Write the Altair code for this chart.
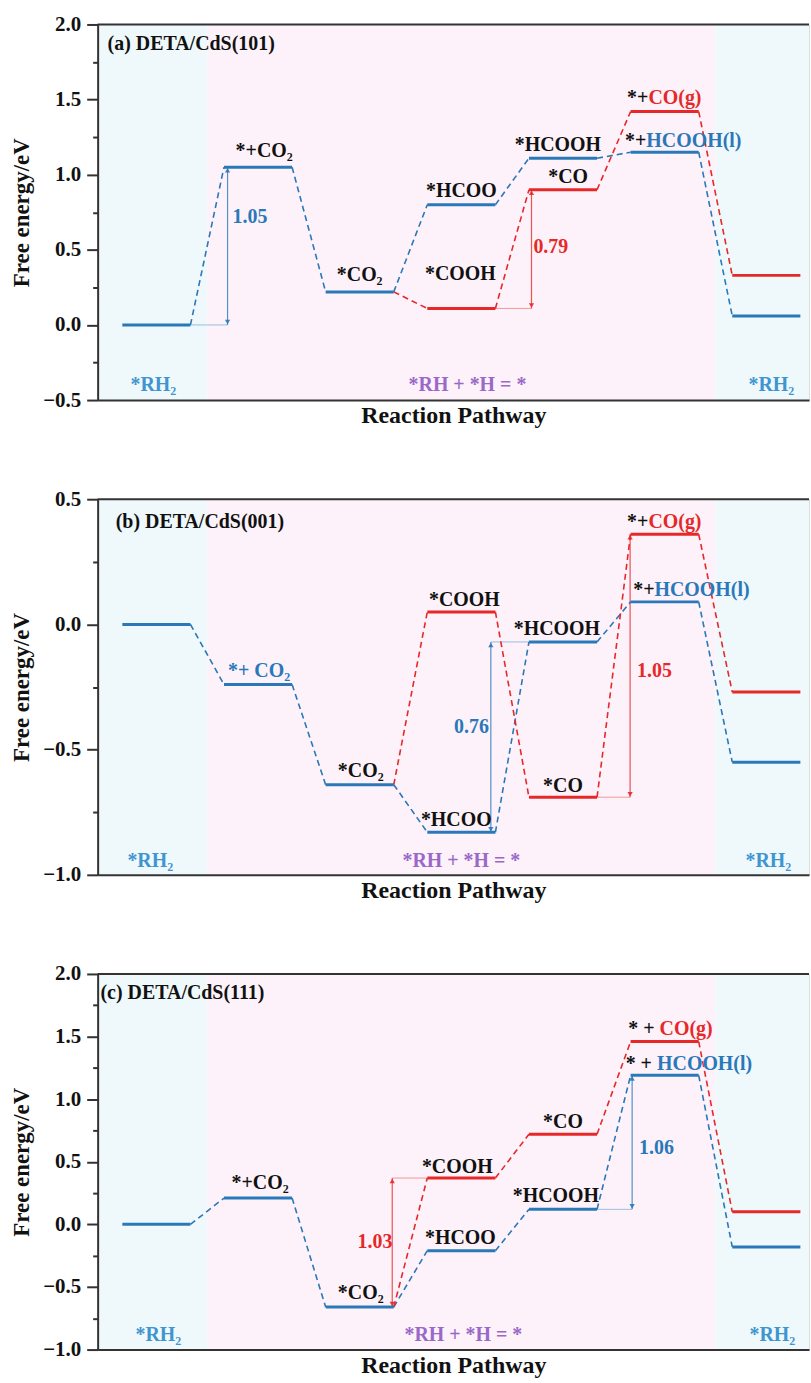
import altair as alt
import pandas as pd

FONT = "Liberation Serif"
BLUE = "#2a78b8"
RED = "#e62828"
BLACK = "#111111"
PURPLE = "#9a68c8"
RH_BLUE = "#3f95d0"
AXIS = "#333333"
CYAN_BG = "#eff9fc"
PINK_BG = "#fdf2fa"

HALF = 0.335
X_DOMAIN = [-0.578, 6.42]
BAND_EDGES = [-0.578, 0.5, 5.5, 6.42]
BAND_COLORS = [CYAN_BG, PINK_BG, CYAN_BG]

# ---------------- Panel (a) DETA/CdS(101) ----------------
A_BLUE = [0.00, 1.05, 0.22, 0.80, 1.11, 1.15, 0.06]   # positions 0..6
A_RED = [0.11, 0.90, 1.42, 0.33]                      # positions 3..6
A_YDOMAIN = [-0.5, 2.0]
A_LABELS = [
    ("(a) DETA/CdS(101)", -0.48, 1.87, BLACK, "left"),
    ("*+CO₂", 1.06, 1.16, BLACK, "center"),
    ("*CO₂", 2.00, 0.33, BLACK, "center"),
    ("*HCOO", 3.00, 0.89, BLACK, "center"),
    ("*COOH", 2.99, 0.34, BLACK, "center"),
    ("*HCOOH", 3.95, 1.20, BLACK, "center"),
    ("*CO", 4.05, 0.985, BLACK, "center"),
    ("*+", 4.84, 1.51, BLACK, "right"),
    ("CO(g)", 4.84, 1.51, RED, "left"),
    ("*+", 4.82, 1.225, BLACK, "right"),
    ("HCOOH(l)", 4.82, 1.225, BLUE, "left"),
    ("1.05", 0.92, 0.716, BLUE, "center"),
    ("0.79", 3.88, 0.52, RED, "center"),
    ("*RH₂", -0.03, -0.40, RH_BLUE, "center"),
    ("*RH₂", 6.05, -0.40, RH_BLUE, "center"),
    ("*RH + *H = *", 3.06, -0.40, PURPLE, "center"),
]
A_ARROWS = [(0.70, 0.00, 1.05, BLUE), (3.69, 0.11, 0.90, RED)]
A_GUIDES = [(0.335, 0.70, 0.00, BLUE), (3.335, 3.69, 0.11, RED)]

# ---------------- Panel (b) DETA/CdS(001) ----------------
B_BLUE = [0.00, -0.24, -0.64, -0.83, -0.07, 0.09, -0.55]
B_RED = [0.05, -0.69, 0.36, -0.27]
B_YDOMAIN = [-1.0, 0.5]
B_LABELS = [
    ("(b) DETA/CdS(001)", -0.40, 0.41, BLACK, "left"),
    ("*+ CO₂", 1.01, -0.185, BLUE, "center"),
    ("*CO₂", 2.01, -0.586, BLACK, "center"),
    ("*COOH", 3.03, 0.097, BLACK, "center"),
    ("*HCOOH", 3.94, -0.017, BLACK, "center"),
    ("*HCOO", 2.95, -0.78, BLACK, "center"),
    ("*CO", 4.00, -0.644, BLACK, "center"),
    ("*+", 4.84, 0.41, BLACK, "right"),
    ("CO(g)", 4.84, 0.41, RED, "left"),
    ("*+", 4.90, 0.139, BLACK, "right"),
    ("HCOOH(l)", 4.90, 0.139, BLUE, "left"),
    ("0.76", 3.10, -0.41, BLUE, "center"),
    ("1.05", 4.90, -0.185, RED, "center"),
    ("*RH₂", -0.06, -0.946, RH_BLUE, "center"),
    ("*RH₂", 6.02, -0.946, RH_BLUE, "center"),
    ("*RH + *H = *", 3.00, -0.946, PURPLE, "center"),
]
B_ARROWS = [(3.29, -0.83, -0.07, BLUE), (4.66, -0.69, 0.36, RED)]
B_GUIDES = [(3.29, 3.665, -0.07, BLUE), (4.335, 4.66, -0.69, RED)]

# ---------------- Panel (c) DETA/CdS(111) ----------------
C_BLUE = [0.00, 0.21, -0.66, -0.21, 0.12, 1.19, -0.18]
C_RED = [0.37, 0.72, 1.46, 0.10]
C_YDOMAIN = [-1.0, 2.0]
C_LABELS = [
    ("(c) DETA/CdS(111)", -0.55, 1.85, BLACK, "left"),
    ("*+CO₂", 1.02, 0.33, BLACK, "center"),
    ("*CO₂", 2.01, -0.55, BLACK, "center"),
    ("*HCOO", 2.99, -0.106, BLACK, "center"),
    ("*COOH", 2.96, 0.46, BLACK, "center"),
    ("*HCOOH", 3.93, 0.224, BLACK, "center"),
    ("*CO", 4.00, 0.82, BLACK, "center"),
    ("* +", 4.90, 1.557, BLACK, "right"),
    ("CO(g)", 4.95, 1.557, RED, "left"),
    ("* +", 4.875, 1.28, BLACK, "right"),
    ("HCOOH(l)", 4.925, 1.28, BLUE, "left"),
    ("1.03", 2.15, -0.145, RED, "center"),
    ("1.06", 4.92, 0.61, BLUE, "center"),
    ("*RH₂", 0.02, -0.88, RH_BLUE, "center"),
    ("*RH₂", 6.06, -0.88, RH_BLUE, "center"),
    ("*RH + *H = *", 3.02, -0.88, PURPLE, "center"),
]
C_ARROWS = [(2.32, -0.66, 0.37, RED), (4.68, 0.12, 1.19, BLUE)]
C_GUIDES = [(2.32, 2.665, 0.37, RED), (4.335, 4.68, 0.12, BLUE)]


def make_panel(blue, red, labels, arrows, guides, ydom):
    ymin, ymax = ydom
    xs = alt.Scale(domain=X_DOMAIN, nice=False, zero=False)
    ys = alt.Scale(domain=ydom, nice=False, zero=False)
    n = int(round((ymax - ymin) / 0.25))
    tick_vals = [round(ymin + 0.25 * k, 2) for k in range(n + 1)]

    xax = alt.Axis(title="Reaction Pathway", labels=False, ticks=False, grid=False,
                   domainColor=AXIS, domainWidth=2, titleFont=FONT, titleFontSize=24,
                   titleFontWeight="bold", titleColor=BLACK, titlePadding=4, zindex=1)
    yax = alt.Axis(title="Free energy/eV", values=tick_vals, format=".1f",
                   labelExpr="datum.value % 0.5 ? '' : datum.label",
                   tickSize={"condition": {"test": "datum.value % 0.5", "value": 5}, "value": 11},
                   tickColor=AXIS, tickWidth=2, domainColor=AXIS, domainWidth=2, grid=False,
                   labelFont=FONT, labelFontSize=21, labelFontWeight="bold", labelColor=BLACK,
                   labelPadding=6, titleFont=FONT, titleFontSize=23, titleFontWeight="bold",
                   titleColor=BLACK, titlePadding=9, zindex=1)

    def X(f):
        return alt.X(f, scale=xs, axis=xax)

    def Y(f):
        return alt.Y(f, scale=ys, axis=yax)

    bands = pd.DataFrame({
        "x": BAND_EDGES[:-1], "x2": BAND_EDGES[1:], "c": BAND_COLORS,
        "y": [ymin] * 3, "y2": [ymax] * 3,
    })
    band_layer = alt.Chart(bands).mark_rect(strokeWidth=0).encode(
        x=X("x:Q"), x2="x2:Q", y=Y("y:Q"), y2="y2:Q",
        color=alt.Color("c:N", scale=None),
    )

    # level bars
    rows = []
    for i, v in enumerate(blue):
        rows.append({"x": i - HALF, "x2": i + HALF, "y": v, "c": BLUE})
    for k, v in enumerate(red):
        i = k + 3
        rows.append({"x": i - HALF, "x2": i + HALF, "y": v, "c": RED})
    levels = pd.DataFrame(rows)
    level_layer = alt.Chart(levels).mark_rule(strokeWidth=3).encode(
        x=X("x:Q"), x2="x2:Q", y=Y("y:Q"),
        color=alt.Color("c:N", scale=None),
    )

    # dashed connectors
    crow = []
    for i in range(len(blue) - 1):
        crow.append({"x": i + HALF, "y": blue[i], "x2": i + 1 - HALF, "y2": blue[i + 1], "c": BLUE})
    red_path = [blue[2]] + list(red)
    for k in range(len(red_path) - 1):
        i = k + 2
        crow.append({"x": i + HALF, "y": red_path[k], "x2": i + 1 - HALF, "y2": red_path[k + 1], "c": RED})
    conn = pd.DataFrame(crow)
    conn_layer = alt.Chart(conn).mark_rule(strokeWidth=1.6, strokeDash=[6, 4]).encode(
        x=X("x:Q"), x2="x2:Q", y=Y("y:Q"), y2="y2:Q",
        color=alt.Color("c:N", scale=None),
    )

    # guide lines
    gdf = pd.DataFrame([{"x": a, "x2": b, "y": y, "c": c} for a, b, y, c in guides])
    guide_layer = alt.Chart(gdf).mark_rule(strokeWidth=1, opacity=0.45).encode(
        x=X("x:Q"), x2="x2:Q", y=Y("y:Q"),
        color=alt.Color("c:N", scale=None),
    )

    # double arrows
    adf = pd.DataFrame([{"x": x, "y": lo, "y2": hi, "c": c} for x, lo, hi, c in arrows])
    arrow_line = alt.Chart(adf).mark_rule(strokeWidth=1.2, opacity=0.8).encode(
        x=X("x:Q"), y=Y("y:Q"), y2="y2:Q",
        color=alt.Color("c:N", scale=None),
    )
    arrow_top = alt.Chart(adf).mark_point(shape="triangle-up", filled=True, size=28,
                                          opacity=0.9, yOffset=3).encode(
        x=X("x:Q"), y=Y("y2:Q"),
        color=alt.Color("c:N", scale=None),
    )
    arrow_bot = alt.Chart(adf).mark_point(shape="triangle-down", filled=True, size=28,
                                          opacity=0.9, yOffset=-3).encode(
        x=X("x:Q"), y=Y("y:Q"),
        color=alt.Color("c:N", scale=None),
    )

    # top frame line
    top_line = alt.Chart(pd.DataFrame({"v": [ymax]})).mark_rule(
        color=AXIS, strokeWidth=2).encode(y=Y("v:Q"))

    ldf = pd.DataFrame([{"t": t, "x": x, "y": y, "c": c, "a": a} for t, x, y, c, a in labels])
    text_layers = []
    for align in ["center", "left", "right"]:
        sub = ldf[ldf["a"] == align]
        if len(sub) == 0:
            continue
        text_layers.append(
            alt.Chart(sub).mark_text(font=FONT, fontSize=20, fontWeight="bold",
                                     align=align, baseline="middle").encode(
                x=X("x:Q"), y=Y("y:Q"),
                text="t:N",
                color=alt.Color("c:N", scale=None),
            )
        )

    return alt.layer(band_layer, guide_layer, arrow_line, arrow_top, arrow_bot,
                     conn_layer, level_layer, top_line, *text_layers).properties(
        width=714, height=377)


pa = make_panel(A_BLUE, A_RED, A_LABELS, A_ARROWS, A_GUIDES, A_YDOMAIN)
pb = make_panel(B_BLUE, B_RED, B_LABELS, B_ARROWS, B_GUIDES, B_YDOMAIN)
pc = make_panel(C_BLUE, C_RED, C_LABELS, C_ARROWS, C_GUIDES, C_YDOMAIN)

chart = alt.vconcat(pa, pb, pc, spacing=58.5).properties(
    padding={"left": 10, "top": 10, "right": 0, "bottom": 0},
    background="white",
).configure_view(stroke=None).configure(font=FONT)

chart.save("out.html", embed_options={"renderer": "svg", "actions": False})
